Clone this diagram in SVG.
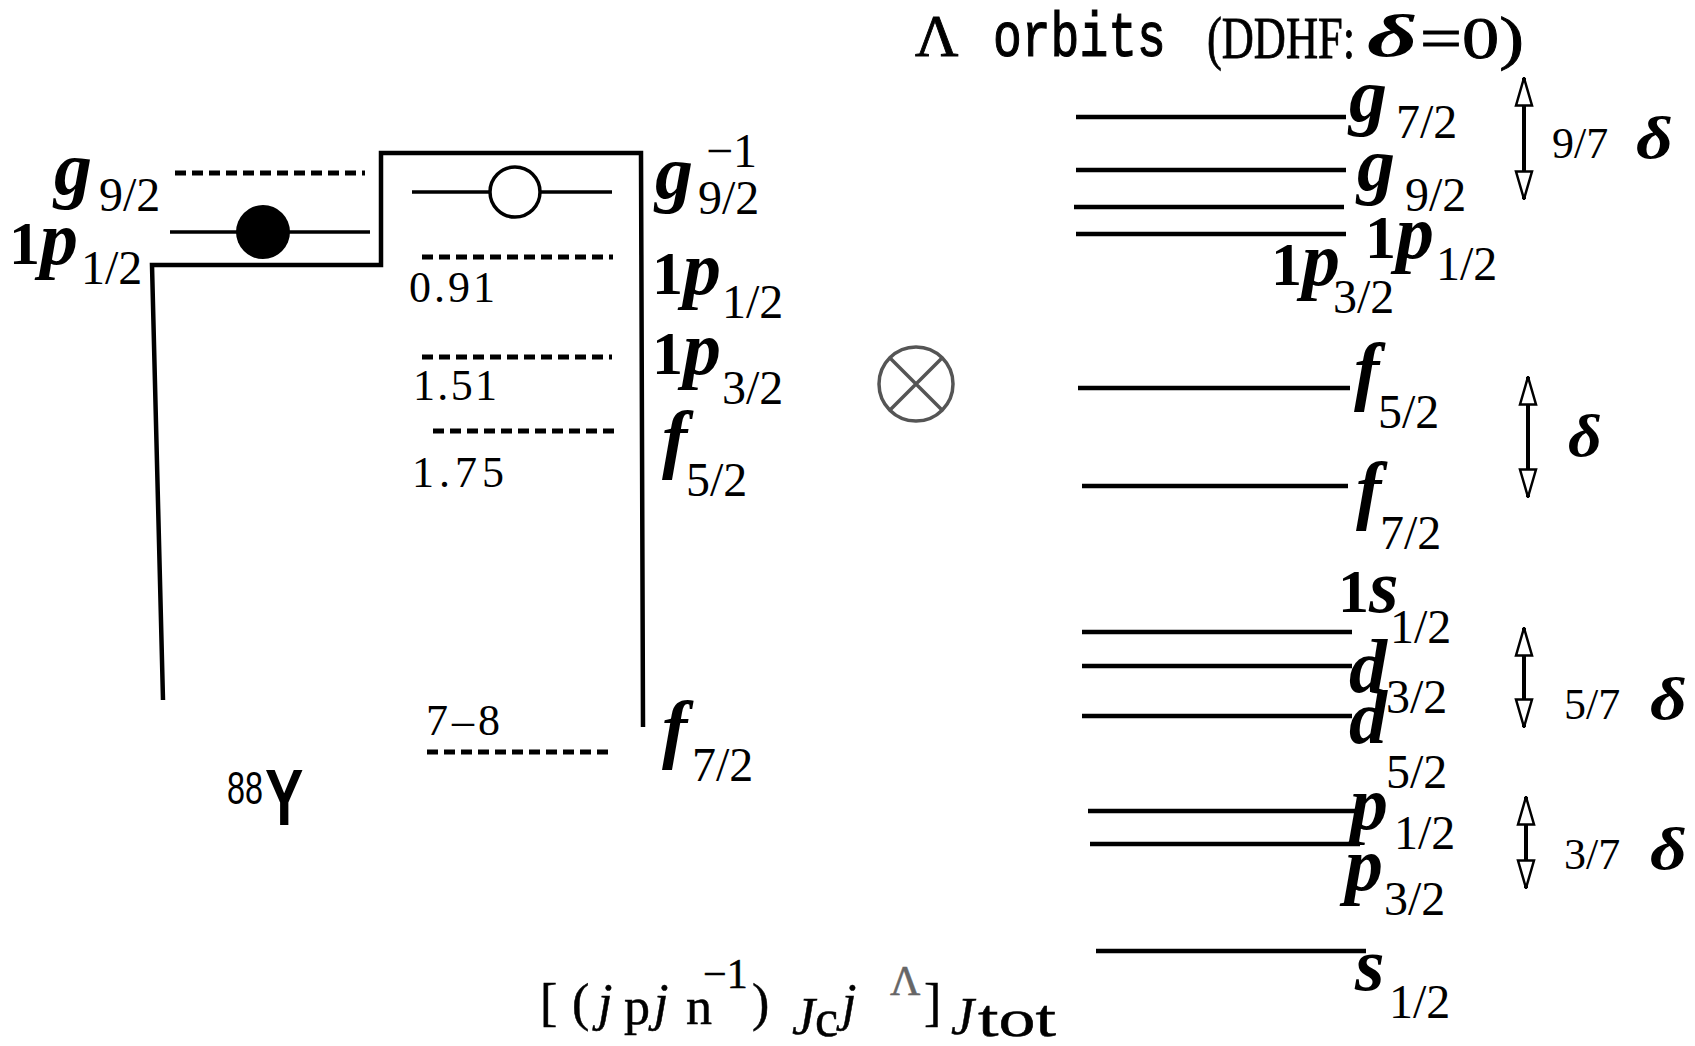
<svg xmlns="http://www.w3.org/2000/svg" width="1695" height="1046" viewBox="0 0 1695 1046">
<style>
.lv{stroke:#000;stroke-width:4.5;fill:none}
.thin{stroke:#000;stroke-width:3.5;fill:none}
.dash{stroke:#000;stroke-width:5;stroke-dasharray:11 6;fill:none}
.bi{font-family:"Liberation Serif",serif;font-weight:bold;font-style:italic;font-size:76px}
.b{font-family:"Liberation Serif",serif;font-weight:bold;font-size:62px}
.sub{font-family:"Liberation Serif",serif;font-size:48px}
.num{font-family:"Liberation Serif",serif;font-size:44px}
.fr{font-family:"Liberation Serif",serif;font-size:52px;stroke:#000;stroke-width:0.5}
.it{font-style:italic}
.dl{font-family:"Liberation Serif",serif;font-weight:bold;font-style:italic;font-size:60px}
.ttl{stroke:#000;stroke-width:0.9}
.arr{stroke:#000;stroke-width:4;fill:none;marker-start:url(#hh);marker-end:url(#hh)}
</style>
<defs>
<marker id="hh" viewBox="0 0 30 20" refX="29" refY="10" markerWidth="30" markerHeight="20" markerUnits="userSpaceOnUse" orient="auto-start-reverse">
<path d="M1.5,2 L29,10 L1.5,18 Z" fill="#fff" stroke="#000" stroke-width="2.5"/>
</marker>
</defs>
<rect width="1695" height="1046" fill="#fff"/>

<g id="title">
<text class="ttl" x="915" y="56" font-family="Liberation Serif,serif" font-size="60">Λ</text>
<text class="ttl" transform="translate(0,56) scale(1,1.3)" font-family="Liberation Mono,monospace" font-size="48"><tspan x="993" y="0">orbits</tspan></text>
<text class="ttl" x="1207" y="58" font-family="Liberation Serif,serif" font-size="60" textLength="148" lengthAdjust="spacingAndGlyphs">(DDHF:</text>
<text transform="translate(1367,56) scale(1.65,1)" class="dl" font-size="58">δ</text>
<text class="ttl" x="1420" y="58" font-family="Liberation Serif,serif" font-size="60" textLength="104" lengthAdjust="spacingAndGlyphs">=0)</text>
</g>

<g id="well-88Y">
<path class="lv" d="M163,700 L152,265 L381,265 L381,153 L641,153 L643,727"/>
</g>

<g id="proton-g92">
<path class="dash" d="M175,173 H365"/>
<text x="54" y="194"><tspan class="bi">g</tspan><tspan class="sub" x="99" y="211">9/2</tspan></text>
</g>
<g id="proton-1p12">
<path class="thin" d="M170,232 H370"/>
<circle cx="263" cy="232" r="27" fill="#000"/>
<text x="9" y="264"><tspan class="b">1</tspan><tspan class="bi">p</tspan><tspan class="sub" x="81" y="284">1/2</tspan></text>
</g>

<g id="hole-g92">
<path class="thin" d="M412,192 H612"/>
<circle cx="515" cy="192" r="25" fill="#fff" stroke="#000" stroke-width="3.5"/>
<text x="655" y="198"><tspan class="bi">g</tspan><tspan class="sub" x="706" y="167" font-size="52">−1</tspan><tspan class="sub" x="698" y="214">9/2</tspan></text>
</g>
<g id="hole-1p12">
<path class="dash" d="M422,257 H613"/>
<text class="num" x="409" y="302" textLength="86">0.91</text>
<text x="652" y="294"><tspan class="b">1</tspan><tspan class="bi">p</tspan><tspan class="sub" x="722" y="318">1/2</tspan></text>
</g>
<g id="hole-1p32">
<path class="dash" d="M422,357 H612"/>
<text class="num" x="413" y="400" textLength="84">1.51</text>
<text x="652" y="374"><tspan class="b">1</tspan><tspan class="bi">p</tspan><tspan class="sub" x="722" y="404">3/2</tspan></text>
</g>
<g id="hole-f52">
<path class="dash" d="M433,431 H619"/>
<text class="num" x="412" y="487" textLength="92">1.75</text>
<text x="662" y="464"><tspan class="bi">f</tspan><tspan class="sub" x="686" y="496">5/2</tspan></text>
</g>
<g id="hole-f72">
<path class="dash" d="M427,752 H613"/>
<text class="num" x="426" y="735" textLength="74">7–8</text>
<text x="662" y="754"><tspan class="bi">f</tspan><tspan class="sub" x="692" y="781">7/2</tspan></text>
</g>

<g id="label-88Y">
<text x="227" y="804" font-family="Liberation Sans,sans-serif" font-size="46" textLength="36" lengthAdjust="spacingAndGlyphs">88</text>
<text transform="translate(265,825) scale(0.72,1)" font-family="Liberation Sans,sans-serif" font-weight="bold" font-size="80">Y</text>
</g>

<g id="otimes">
<circle cx="916" cy="384" r="37" fill="none" stroke="#555" stroke-width="3.5"/>
<path d="M890,358 L942,410 M942,358 L890,410" stroke="#555" stroke-width="3.5"/>
</g>

<g id="lambda-g72">
<path class="lv" d="M1076,117 H1346"/>
<text x="1349" y="121"><tspan class="bi">g</tspan><tspan class="sub" x="1396" y="138">7/2</tspan></text>
</g>
<g id="lambda-g92">
<path class="lv" d="M1076,170 H1346"/>
<text x="1357" y="190"><tspan class="bi">g</tspan><tspan class="sub" x="1405" y="211">9/2</tspan></text>
</g>
<g id="lambda-1p12">
<path class="lv" d="M1074,207 H1344"/>
<text x="1365" y="258"><tspan class="b">1</tspan><tspan class="bi">p</tspan><tspan class="sub" x="1436" y="280">1/2</tspan></text>
</g>
<g id="lambda-1p32">
<path class="lv" d="M1076,234 H1346"/>
<text x="1271" y="285"><tspan class="b">1</tspan><tspan class="bi">p</tspan><tspan class="sub" x="1333" y="313">3/2</tspan></text>
</g>
<g id="lambda-f52">
<path class="lv" d="M1078,388 H1350"/>
<text x="1354" y="396"><tspan class="bi">f</tspan><tspan class="sub" x="1378" y="428">5/2</tspan></text>
</g>
<g id="lambda-f72">
<path class="lv" d="M1082,486 H1348"/>
<text x="1356" y="515"><tspan class="bi">f</tspan><tspan class="sub" x="1380" y="549">7/2</tspan></text>
</g>
<g id="lambda-1s12">
<path class="lv" d="M1082,632 H1352"/>
<text x="1338" y="612"><tspan class="b">1</tspan><tspan class="bi">s</tspan><tspan class="sub" x="1390" y="643">1/2</tspan></text>
</g>
<g id="lambda-d32">
<path class="lv" d="M1082,666 H1352"/>
<text x="1349" y="692"><tspan class="bi">d</tspan><tspan class="sub" x="1386" y="713">3/2</tspan></text>
</g>
<g id="lambda-d52">
<path class="lv" d="M1082,716 H1352"/>
<text x="1349" y="743"><tspan class="bi">d</tspan><tspan class="sub" x="1386" y="788">5/2</tspan></text>
</g>
<g id="lambda-p12">
<path class="lv" d="M1088,811 H1356"/>
<text x="1350" y="829"><tspan class="bi">p</tspan><tspan class="sub" x="1394" y="849">1/2</tspan></text>
</g>
<g id="lambda-p32">
<path class="lv" d="M1090,844 H1360"/>
<text x="1345" y="890"><tspan class="bi">p</tspan><tspan class="sub" x="1384" y="915">3/2</tspan></text>
</g>
<g id="lambda-s12">
<path class="lv" d="M1096,951 H1366"/>
<text x="1355" y="990"><tspan class="bi">s</tspan><tspan class="sub" x="1389" y="1018">1/2</tspan></text>
</g>

<g id="connectors">
<path class="arr" d="M1524,78 V199"/>
<path class="arr" d="M1528,377 V497"/>
<path class="arr" d="M1524,628 V727"/>
<path class="arr" d="M1526,797 V888"/>
</g>

<g id="splitting-labels">
<text x="1552" y="158" class="num" font-size="50">9/7</text>
<text transform="translate(1636,158) scale(1.2,1)" class="dl">δ</text>
<text transform="translate(1568,456) scale(1.1,1)" class="dl" font-size="66">δ</text>
<text x="1564" y="719" class="num" font-size="50">5/7</text>
<text transform="translate(1650,719) scale(1.2,1)" class="dl">δ</text>
<text x="1564" y="869" class="num" font-size="50">3/7</text>
<text transform="translate(1650,869) scale(1.2,1)" class="dl">δ</text>
</g>

<g id="formula" class="fr">
<text x="540" y="1020">[</text>
<text x="572" y="1020">(</text>
<text x="598" y="1020" class="it">j</text>
<text x="624" y="1024">p</text>
<text x="654" y="1020" class="it">j</text>
<text x="686" y="1024">n</text>
<text x="703" y="988" font-size="42">−1</text>
<text x="752" y="1020">)</text>
<text x="792" y="1034" class="it">J</text>
<text x="815" y="1036">c</text>
<text x="842" y="1020" class="it">j</text>
<text x="890" y="995" fill="#666" stroke="#666" font-size="42">Λ</text>
<text x="924" y="1020">]</text>
<text x="951" y="1034" class="it">J</text>
<text x="978" y="1036" textLength="78" lengthAdjust="spacingAndGlyphs">tot</text>
</g>
</svg>
